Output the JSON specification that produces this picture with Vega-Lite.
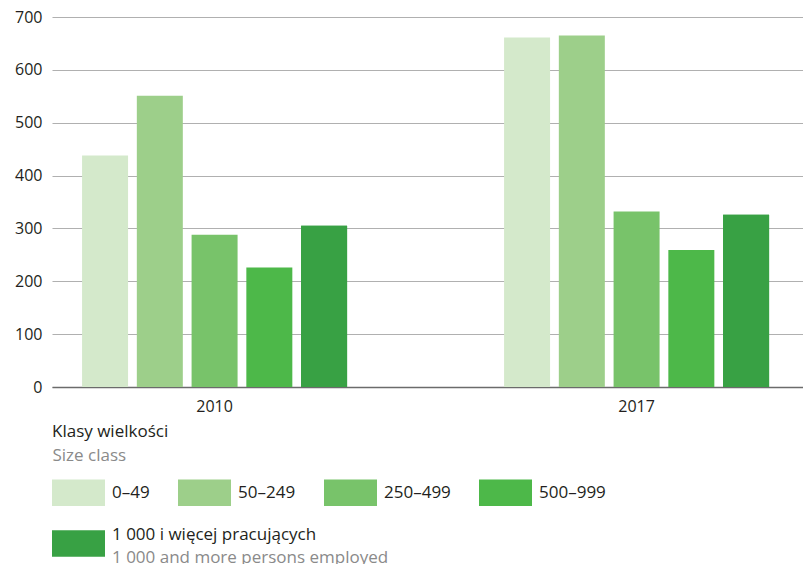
{
  "$schema": "https://vega.github.io/schema/vega-lite/v6.json",
  "width": 751,
  "height": 370,
  "autosize": {"type": "none"},
  "padding": {"left": 52, "top": 17, "right": 0, "bottom": 177},
  "background": "white",
  "config": {
    "font": "Open Sans",
    "view": {"stroke": null},
    "axis": {"labelFont": "Open Sans", "titleFont": "Open Sans"},
    "legend": {"labelFont": "Open Sans", "titleFont": "Open Sans"}
  },
  "data": {
    "values": [
      {"year": "2010", "cls": "0–49", "value": 438},
      {"year": "2010", "cls": "50–249", "value": 551},
      {"year": "2010", "cls": "250–499", "value": 288},
      {"year": "2010", "cls": "500–999", "value": 226},
      {"year": "2010", "cls": "1 000  i więcej pracujących", "value": 305},
      {"year": "2017", "cls": "0–49", "value": 661},
      {"year": "2017", "cls": "50–249", "value": 665},
      {"year": "2017", "cls": "250–499", "value": 332},
      {"year": "2017", "cls": "500–999", "value": 259},
      {"year": "2017", "cls": "1 000  i więcej pracujących", "value": 326}
    ]
  },
  "encoding": {
    "x": {
      "field": "year",
      "type": "nominal",
      "scale": {"paddingInner": 0.372, "paddingOuter": 0.0758, "align": 0.47},
      "axis": {
        "labelAngle": 0,
        "labelFontSize": 16,
        "labelColor": "#231f20",
        "labelPadding": 11,
        "ticks": false,
        "domain": true,
        "domainColor": "#6b6b6b",
        "domainWidth": 1.5,
        "title": "Size class",
        "titleX": 0,
        "titleY": 60,
        "titleAlign": "left",
        "titleAnchor": "start",
        "titleBaseline": "top",
        "titleColor": "#8a8a8a",
        "titleFontWeight": "normal",
        "titleFontSize": 17
      }
    },
    "xOffset": {
      "field": "cls",
      "type": "nominal",
      "scale": {
        "domain": ["0–49", "50–249", "250–499", "500–999", "1 000  i więcej pracujących"],
        "paddingInner": 0.16,
        "paddingOuter": 0
      }
    },
    "y": {
      "field": "value",
      "type": "quantitative",
      "scale": {"domain": [0, 700], "nice": false},
      "axis": {
        "values": [0, 100, 200, 300, 400, 500, 600, 700],
        "grid": true,
        "gridColor": "#b0b0b0",
        "gridWidth": 1.2,
        "domain": false,
        "ticks": false,
        "labelPadding": 10,
        "labelFontSize": 16,
        "labelColor": "#231f20",
        "title": null
      }
    }
  },
  "layer": [
    {
      "mark": {"type": "bar"},
      "encoding": {
        "color": {
          "field": "cls",
          "type": "nominal",
          "scale": {
            "domain": ["0–49", "50–249", "250–499", "500–999", "1 000  i więcej pracujących"],
            "range": ["#d4e9cb", "#9dcf8a", "#78c36a", "#4db849", "#38a144"]
          },
          "legend": {
            "orient": "none",
            "legendX": 0,
            "legendY": 407,
            "direction": "horizontal",
            "values": ["0–49", "50–249", "250–499", "500–999"],
            "title": "Klasy wielkości",
            "titleFontSize": 17,
            "titleFontWeight": "normal",
            "titleColor": "#231f20",
            "titlePadding": 25,
            "padding": 0,
            "symbolType": "M-1,-0.5H1V0.5H-1Z",
            "symbolSize": 2809,
            "symbolStrokeWidth": 0,
            "symbolOpacity": 1,
            "labelFontSize": 17,
            "labelColor": "#231f20",
            "labelOffset": 7,
            "labelLimit": 400,
            "columnPadding": 28
          }
        }
      }
    },
    {
      "transform": [{"filter": "datum.cls == '1 000  i więcej pracujących'"}],
      "mark": {"type": "bar"},
      "encoding": {
        "fill": {
          "field": "cls",
          "type": "nominal",
          "scale": {"domain": ["1 000  i więcej pracujących"], "range": ["#38a144"]},
          "legend": {
            "orient": "none",
            "legendX": 0,
            "legendY": 500,
            "title": null,
            "padding": 0,
            "symbolType": "M-1,-0.5H1V0.5H-1Z",
            "symbolSize": 2809,
            "symbolStrokeWidth": 0,
            "symbolOpacity": 1,
            "labelFontSize": 17,
            "labelColor": "#231f20",
            "labelBaseline": "bottom",
            "labelOffset": 7,
            "labelLimit": 400
          }
        },
        "opacity": {
          "datum": "1 000 and more persons employed",
          "type": "ordinal",
          "scale": {"range": [1]},
          "legend": {
            "orient": "none",
            "legendX": 0,
            "legendY": 506,
            "title": null,
            "padding": 0,
            "symbolType": "M-1,-0.5H1V0.5H-1Z",
            "symbolSize": 2809,
            "symbolStrokeWidth": 0,
            "symbolOpacity": 0,
            "symbolFillColor": "transparent",
            "labelFontSize": 17,
            "labelColor": "#8a8a8a",
            "labelBaseline": "top",
            "labelOffset": 7,
            "labelLimit": 400
          }
        }
      }
    }
  ]
}
